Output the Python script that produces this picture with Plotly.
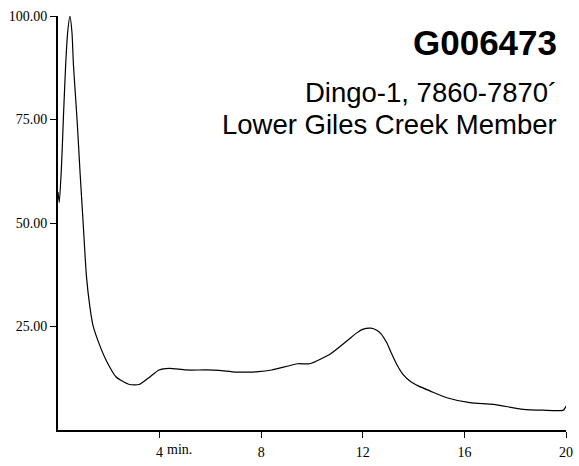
import plotly.graph_objects as go

# Chromatogram trace (retention time in minutes, relative intensity %)
time_min = [0.00, 0.05, 0.14, 0.21, 0.30, 0.38, 0.47, 0.55, 0.61, 0.75, 0.87, 0.99,
            1.12, 1.25, 1.38, 1.64, 1.90, 2.29, 2.81, 3.20, 3.59, 3.98, 4.38, 5.03,
            5.81, 6.33, 6.98, 7.50, 7.89, 8.41, 9.45, 9.91, 10.75, 11.41, 11.75,
            11.99, 12.32, 12.55, 12.71, 12.95, 13.10, 13.36, 13.60, 13.88, 14.20,
            14.66, 15.31, 16.22, 17.14, 18.31, 19.09, 19.90, 20.00]
intensity = [57.5, 55.0, 64.0, 75.0, 88.0, 96.0, 100.0, 96.0, 88.0, 75.0, 62.0, 50.0,
             37.1, 30.0, 25.2, 20.5, 16.8, 12.8, 11.0, 11.0, 12.7, 14.5, 14.9, 14.5,
             14.5, 14.4, 14.0, 14.0, 14.1, 14.5, 16.0, 16.0, 18.5, 21.7, 23.4,
             24.3, 24.6, 24.1, 23.3, 21.0, 18.9, 15.6, 13.3, 11.7, 10.6,
             9.4, 7.8, 6.6, 6.2, 5.0, 4.8, 4.8, 5.8]

x_ticks = [4, 8, 12, 16, 20]
x_ticktext = ["4", "8", "12", "16", "20"]
y_ticks = [25, 50, 75, 100]

sample_id = "G006473"
well_line = "Dingo-1, 7860-7870\u00b4"
unit_line = "Lower Giles Creek Member"

fig = go.Figure()
fig.add_trace(go.Scatter(
    x=time_min, y=intensity, mode="lines",
    line=dict(color="black", width=1.2, shape="spline", smoothing=0.6),
    showlegend=False, hoverinfo="skip",
))

serif = "Liberation Serif, Times New Roman, serif"
sans = "Liberation Sans, Arial, sans-serif"

fig.update_layout(
    width=579, height=466,
    margin=dict(l=58, r=6, t=16, b=26),
    paper_bgcolor="white", plot_bgcolor="white",
    xaxis=dict(
        range=[0, 20], tickmode="array", tickvals=x_ticks, ticktext=x_ticktext,
        showgrid=False, zeroline=False, showline=True, linecolor="black", linewidth=2,
        ticks="outside", ticklen=6, tickwidth=1, tickcolor="black",
        ticklabelstandoff=2, ticklabeloverflow="allow",
        tickfont=dict(family=serif, size=14, color="black"),
    ),
    yaxis=dict(
        range=[0, 100], tickmode="array", tickvals=y_ticks, tickformat=".2f",
        showgrid=False, zeroline=False, showline=True, linecolor="black", linewidth=2,
        ticks="outside", ticklen=6, tickwidth=1, tickcolor="black",
        tickfont=dict(family=serif, size=14, color="black"),
    ),
    annotations=[
        dict(text="min.", xref="x", x=4, xanchor="left", xshift=5,
             yref="paper", y=0, yanchor="top", yshift=-10, showarrow=False,
             font=dict(family=serif, size=14, color="black")),
        dict(text="<b>" + sample_id + "</b>", xref="paper", x=0.986, xanchor="right",
             yref="paper", y=0.936, yanchor="middle", showarrow=False,
             font=dict(family=sans, size=35, color="black")),
        dict(text=well_line, xref="paper", x=0.986, xanchor="right",
             yref="paper", y=0.815, yanchor="middle", showarrow=False,
             font=dict(family=sans, size=27.5, color="black")),
        dict(text=unit_line, xref="paper", x=0.986, xanchor="right",
             yref="paper", y=0.738, yanchor="middle", showarrow=False,
             font=dict(family=sans, size=27.5, color="black")),
    ],
)

fig.write_html("out.html")
